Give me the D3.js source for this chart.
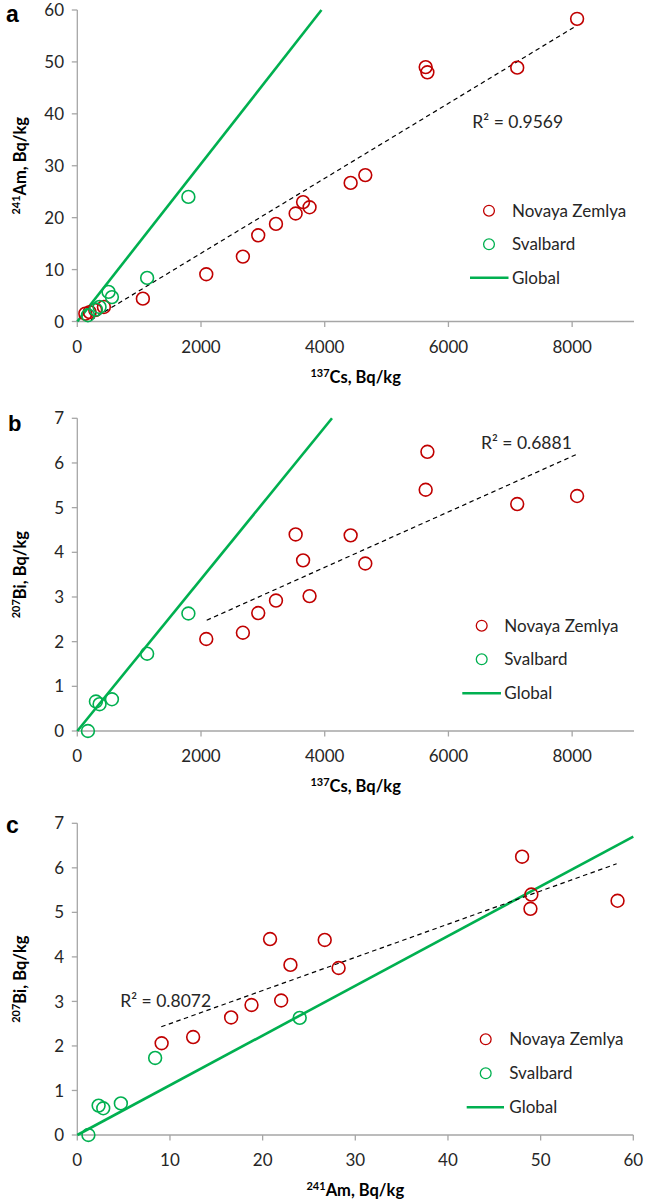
<!DOCTYPE html>
<html>
<head>
<meta charset="utf-8">
<script src="https://cdn.jsdelivr.net/npm/d3@7/dist/d3.min.js"></script>
<style>
  html, body { margin: 0; padding: 0; background: #fff; }
  svg { display: block; font-family: Lato, "Open Sans", sans-serif; }
</style>
</head>
<body>
<svg id="chart" width="645" height="1202"></svg>
<script>
// ---------------- DATA ----------------
// Novaya Zemlya samples with all three radionuclides
const nzCs = [2085, 2677, 2925, 3212, 3530, 3650, 3755, 4419, 4656, 5660, 5632, 7112, 8080];
const nzAm = [9.1, 12.5, 16.6, 18.8, 20.8, 23.0, 22.0, 26.7, 28.2, 48.0, 49.0, 48.9, 58.3];
const nzBi = [2.06, 2.20, 2.64, 2.92, 4.40, 3.82, 3.02, 4.38, 3.75, 6.25, 5.40, 5.08, 5.26];
// Novaya Zemlya samples with Cs/Am only
const nzExtraCs = [130, 200, 290, 430, 1060];
const nzExtraAm = [1.5, 1.8, 2.2, 2.8, 4.4];
// Svalbard samples with all three
const svCs = [172, 301, 360, 560, 1129, 1796];
const svAm = [1.2, 2.3, 2.8, 4.7, 8.4, 24.0];
const svBi = [0.00, 0.66, 0.60, 0.71, 1.73, 2.63];
// Svalbard sample with Cs/Am only
const svExtraCs = [505];
const svExtraAm = [5.7];

// Global fallout ratios (lines through origin)
const globalAmCs = 0.0152;
const globalBiCs = 0.0017;
const globalBiAm = 0.1117;

// Trend lines (Novaya Zemlya): slope, intercept, x-range
const trendA = { slope: 0.00722, intercept: -1.3, x0: 220, x1: 8080, r2: "0.9569", lx: 6387, ly: 37.3 };
const trendB = { slope: 0.000621, intercept: 1.18, x0: 2092, x1: 8085, r2: "0.6881", lx: 6527, ly: 6.31 };
const trendC = { slope: 0.0745, intercept: 1.755, x0: 9.06, x1: 58.2, r2: "0.8072", lx: 4.64, ly: 2.88 };

const xTicksCs = [0, 2000, 4000, 6000, 8000];
const xTicksAm = [0, 10, 20, 30, 40, 50, 60];
const yTicksAm = [0, 10, 20, 30, 40, 50, 60];
const yTicksBi = [0, 1, 2, 3, 4, 5, 6, 7];

const legendLabels = ["Novaya Zemlya", "Svalbard", "Global"];

// ---------------- STYLE ----------------
const RED = "#c00000", GREEN = "#00b050", AXIS = "#a6a6a6", TXT = "#262626";

const svg = d3.select("#chart");

function zip(xs, ys) { return xs.map((x, i) => [x, ys[i]]); }

function panel(cfg) {
  const g = svg.append("g");
  const x = d3.scaleLinear().domain([0, cfg.xMax]).range([77.3, cfg.right]);
  const y = d3.scaleLinear().domain([0, cfg.yMax]).range([cfg.bottom, cfg.top]);

  // axes lines
  g.append("line").attr("x1", x(0)).attr("x2", x(0)).attr("y1", y(0)).attr("y2", y(cfg.yMax))
    .attr("stroke", AXIS).attr("stroke-width", 1.3);
  g.append("line").attr("x1", x(0)).attr("x2", x(cfg.xMax)).attr("y1", y(0)).attr("y2", y(0))
    .attr("stroke", AXIS).attr("stroke-width", 1.3);

  // y ticks
  cfg.yTicks.forEach(t => {
    g.append("line").attr("x1", x(0) - 5.5).attr("x2", x(0)).attr("y1", y(t)).attr("y2", y(t))
      .attr("stroke", AXIS).attr("stroke-width", 1.3);
    g.append("text").attr("x", 64).attr("y", y(t)).attr("dy", "0.36em")
      .attr("text-anchor", "end").attr("font-size", 17).attr("fill", TXT).text(t);
  });
  // x ticks
  cfg.xTicks.forEach(t => {
    g.append("line").attr("x1", x(t)).attr("x2", x(t)).attr("y1", y(0)).attr("y2", y(0) + 5.5)
      .attr("stroke", AXIS).attr("stroke-width", 1.3);
    g.append("text").attr("x", x(t)).attr("y", y(0) + 31)
      .attr("text-anchor", "middle").attr("font-size", 17).attr("fill", TXT).text(t);
  });

  // axis titles
  const xt = g.append("text").attr("x", (x(0) + x(cfg.xMax)) / 2).attr("y", y(0) + 61)
    .attr("text-anchor", "middle").attr("font-size", 16.5).attr("font-weight", "bold").attr("fill", "#000");
  xt.append("tspan").attr("font-size", 11).attr("dy", -6).text(cfg.xSup);
  xt.append("tspan").attr("dy", 6).text(cfg.xName);

  const yc = (y(0) + y(cfg.yMax)) / 2;
  const yt = g.append("text").attr("transform", `translate(26,${yc}) rotate(-90)`)
    .attr("text-anchor", "middle").attr("font-size", 16.5).attr("font-weight", "bold").attr("fill", "#000");
  yt.append("tspan").attr("font-size", 11).attr("dy", -6).text(cfg.ySup);
  yt.append("tspan").attr("dy", 6).text(cfg.yName);

  // panel letter
  g.append("text").attr("x", cfg.letterX).attr("y", cfg.letterY).attr("font-size", cfg.letterSize)
    .attr("font-family", "'Liberation Sans', Arial, sans-serif")
    .attr("font-weight", "bold").attr("fill", "#000").text(cfg.letter);

  // global line
  const gxEnd = Math.min(cfg.xMax, cfg.yMax / cfg.globalSlope);
  g.append("path")
    .attr("d", d3.line().x(d => x(d[0])).y(d => y(d[1]))([[0, 0], [gxEnd, gxEnd * cfg.globalSlope]]))
    .attr("stroke", GREEN).attr("stroke-width", 2.6).attr("fill", "none");

  // trend line
  const tr = cfg.trend;
  g.append("path")
    .attr("d", d3.line().x(d => x(d[0])).y(d => y(d[1]))(
      [[tr.x0, tr.slope * tr.x0 + tr.intercept], [tr.x1, tr.slope * tr.x1 + tr.intercept]]))
    .attr("stroke", "#000").attr("stroke-width", 1.2).attr("stroke-dasharray", "4.5,3.5").attr("fill", "none");

  // R² label
  const rl = g.append("text").attr("x", x(tr.lx)).attr("y", y(tr.ly)).attr("font-size", 17.5).attr("fill", TXT);
  rl.text("R² = " + tr.r2);

  // points
  g.selectAll(null).data(cfg.nz).join("circle")
    .attr("cx", d => x(d[0])).attr("cy", d => y(d[1])).attr("r", 6.4)
    .attr("fill", "none").attr("stroke", RED).attr("stroke-width", 1.6);
  g.selectAll(null).data(cfg.sv).join("circle")
    .attr("cx", d => x(d[0])).attr("cy", d => y(d[1])).attr("r", 6.4)
    .attr("fill", "none").attr("stroke", GREEN).attr("stroke-width", 1.6);

  // legend
  const L = cfg.legend;
  const rows = L.rows.map(r => cfg.top + r);
  g.append("circle").attr("cx", L.cx).attr("cy", rows[0]).attr("r", 5.4)
    .attr("fill", "none").attr("stroke", RED).attr("stroke-width", 1.3);
  g.append("circle").attr("cx", L.cx).attr("cy", rows[1]).attr("r", 5.4)
    .attr("fill", "none").attr("stroke", GREEN).attr("stroke-width", 1.3);
  g.append("line").attr("x1", L.lx0).attr("x2", L.lx1).attr("y1", rows[2]).attr("y2", rows[2])
    .attr("stroke", GREEN).attr("stroke-width", 2.6);
  legendLabels.forEach((lab, i) => {
    g.append("text").attr("x", L.tx).attr("y", rows[i]).attr("dy", "0.36em")
      .attr("font-size", 17).attr("fill", TXT).text(lab);
  });
}

panel({
  top: 10, bottom: 321.5, right: 634, xMax: 9000, yMax: 60,
  xTicks: xTicksCs, yTicks: yTicksAm,
  xSup: "137", xName: "Cs, Bq/kg", ySup: "241", yName: "Am, Bq/kg",
  letter: "a", letterX: 6, letterY: 22, letterSize: 23,
  globalSlope: globalAmCs, trend: trendA,
  nz: zip(nzCs, nzAm).concat(zip(nzExtraCs, nzExtraAm)),
  sv: zip(svCs, svAm).concat(zip(svExtraCs, svExtraAm)),
  legend: { rows: [200.7, 234.3, 267.7], cx: 489, tx: 512, lx0: 470, lx1: 508.5 }
});

panel({
  top: 418.3, bottom: 731, right: 634, xMax: 9000, yMax: 7,
  xTicks: xTicksCs, yTicks: yTicksBi,
  xSup: "137", xName: "Cs, Bq/kg", ySup: "207", yName: "Bi, Bq/kg",
  letter: "b", letterX: 8, letterY: 430.5, letterSize: 22,
  globalSlope: globalBiCs, trend: trendB,
  nz: zip(nzCs, nzBi), sv: zip(svCs, svBi),
  legend: { rows: [207.4, 241, 275], cx: 481.7, tx: 504.3, lx0: 462.3, lx1: 501 }
});

panel({
  top: 823.3, bottom: 1135, right: 633.3, xMax: 60, yMax: 7,
  xTicks: xTicksAm, yTicks: yTicksBi,
  xSup: "241", xName: "Am, Bq/kg", ySup: "207", yName: "Bi, Bq/kg",
  letter: "c", letterX: 6, letterY: 832.7, letterSize: 23,
  globalSlope: globalBiAm, trend: trendC,
  nz: zip(nzAm, nzBi), sv: zip(svAm, svBi),
  legend: { rows: [216, 250, 284], cx: 485.7, tx: 509.3, lx0: 466.7, lx1: 504 }
});
</script>
</body>
</html>
